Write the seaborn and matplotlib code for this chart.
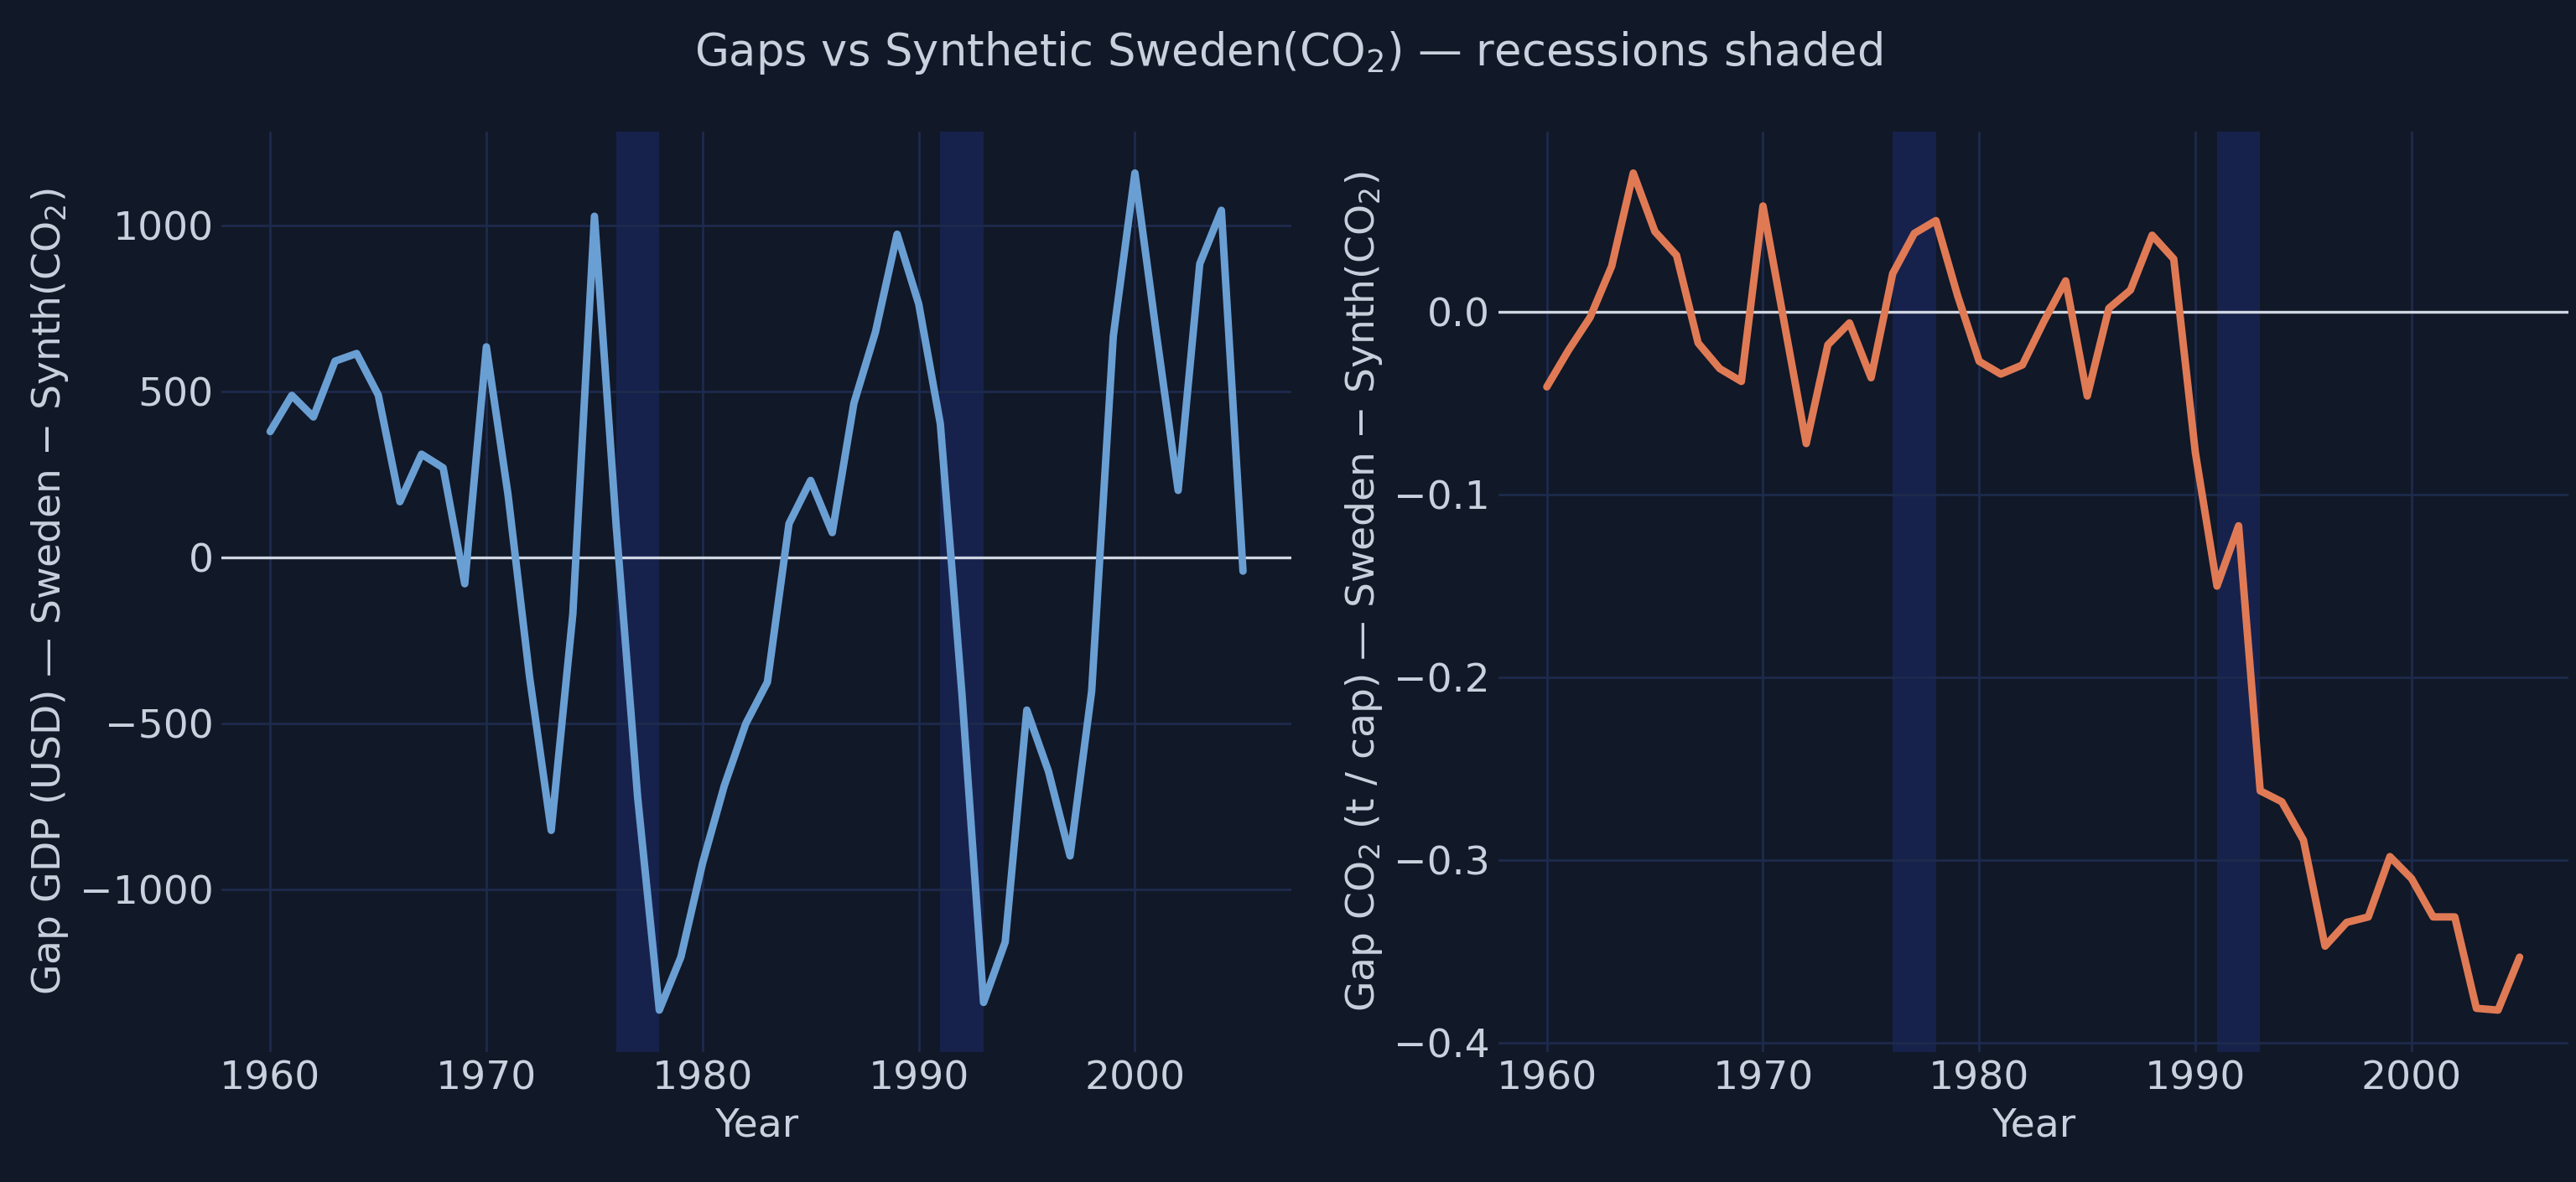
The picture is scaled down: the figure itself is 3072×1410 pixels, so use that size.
import numpy as np
import pandas as pd
import seaborn as sns
import matplotlib.pyplot as plt

YEARS = list(range(1960, 2006))
GAP_GDP = [379, 488, 423, 591, 614, 489, 168, 311, 270, -79,
           634, 190, -360, -821, -170, 1027, 100, -723, -1362, -1202,
           -920, -688, -500, -375, 102, 232, 75, 464, 679, 973,
           763, 402, -411, -1339, -1157, -459, -643, -898, -402, 666,
           1157, 670, 202, 884, 1045, -41]
GAP_CO2 = [-0.041, -0.021, -0.003, 0.025, 0.076, 0.044, 0.031, -0.017, -0.031, -0.038,
           0.058, -0.007, -0.072, -0.018, -0.006, -0.036, 0.021, 0.043, 0.050, 0.009,
           -0.027, -0.034, -0.029, -0.005, 0.017, -0.046, 0.002, 0.012, 0.042, 0.029,
           -0.077, -0.150, -0.117, -0.262, -0.268, -0.289, -0.347, -0.334, -0.331, -0.298,
           -0.310, -0.331, -0.331, -0.381, -0.382, -0.353]
RECESSIONS = [(1976, 1978), (1991, 1993)]

BG = '#111827'
TEXT = '#c9d1de'
GRID = '#1d2a4d'

sns.set_theme(style='darkgrid', rc={
    'figure.facecolor': BG, 'axes.facecolor': BG, 'grid.color': GRID,
    'axes.labelcolor': TEXT, 'xtick.color': TEXT, 'ytick.color': TEXT,
    'text.color': TEXT, 'axes.edgecolor': BG,
})
plt.rcParams['font.family'] = ['DejaVu Sans']

df = pd.DataFrame({'Year': YEARS, 'gdp': GAP_GDP, 'co2': GAP_CO2})

fig, axes = plt.subplots(1, 2, figsize=(15.36, 7.05), dpi=200)
plt.subplots_adjust(left=0.086, right=0.997, top=0.889, bottom=0.110, wspace=0.193)

panels = [
    ('gdp', '#6a9fd4', r'Gap GDP (USD) — Sweden − Synth(CO$_2$)'),
    ('co2', '#e07a55', r'Gap CO$_2$ (t / cap) — Sweden − Synth(CO$_2$)'),
]
for ax, (col, color, ylabel) in zip(axes, panels):
    for a, b in RECESSIONS:
        ax.axvspan(a, b, color='#1c2a66', alpha=0.6, lw=0, zorder=0)
    ax.axhline(0, color='#d0d6e2', lw=1.2, zorder=1)
    sns.lineplot(data=df, x='Year', y=col, ax=ax, color=color, lw=3.2, zorder=2)
    ax.set_xlabel('Year', fontsize=17)
    ax.set_ylabel(ylabel, fontsize=17)
    ax.tick_params(labelsize=17, length=0)
    ax.grid(True, color=GRID, lw=1)
    for s in ax.spines.values():
        s.set_visible(False)

axes[0].set_yticks([-1000, -500, 0, 500, 1000])
axes[1].set_yticks([-0.4, -0.3, -0.2, -0.1, 0.0])
axes[1].yaxis.set_major_formatter(plt.FuncFormatter(lambda v, p: f'{v:.1f}'.replace('-', '−')))

fig.suptitle(r'Gaps vs Synthetic Sweden(CO$_2$) — recessions shaded', fontsize=19, y=0.975)
fig.savefig('out.png', dpi=200, facecolor=BG)
